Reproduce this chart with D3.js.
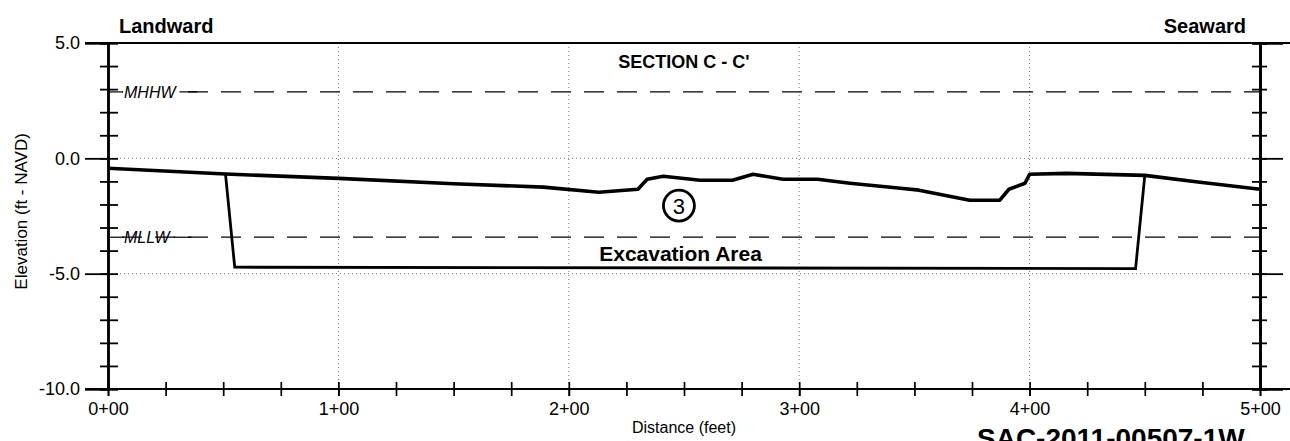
<!DOCTYPE html>
<html><head><meta charset="utf-8">
<script src="https://cdn.jsdelivr.net/npm/d3@7"></script>
<style>
body{margin:0;background:#fff;}
svg{display:block;font-family:'Liberation Sans',Arial,sans-serif;}
</style></head>
<body><svg id="c" width="1290" height="441"></svg>
<script>
// ---- data ----
const groundDist = [0, 51, 100, 150, 189, 213, 230, 234, 241, 257, 271, 280, 293, 308, 322, 344, 352, 374, 387, 391, 398, 400, 416, 450, 474, 500];
const groundElev = [-0.43, -0.68, -0.87, -1.1, -1.25, -1.47, -1.34, -0.91, -0.78, -0.95, -0.95, -0.69, -0.91, -0.91, -1.08, -1.3, -1.38, -1.82, -1.82, -1.34, -1.08, -0.69, -0.65, -0.74, -1.04, -1.34];
const excDist = [51, 55, 446, 450];
const excElev = [-0.68, -4.72, -4.78, -0.74];
const tideNames = ["MHHW", "MLLW"];
const tideElev = [2.88, -3.42];
const xMajorTicks = [0, 100, 200, 300, 400, 500];
const yMajorTicks = [5, 0, -5, -10];
const xTickLabels = ["0+00", "1+00", "2+00", "3+00", "4+00", "5+00"];
const yTickLabels = ["5.0", "0.0", "-5.0", "-10.0"];
const sectionTitle = "SECTION C - C'";
const areaLabel = "Excavation Area";
const areaNumber = "3";
const drawingId = "SAC-2011-00507-1W";

const svg = d3.select("#c");
const x = d3.scaleLinear().domain([0, 500]).range([108, 1260]);
const y = d3.scaleLinear().domain([-10, 5]).range([389, 43]);

// grid (dotted)
const g = svg.append("g");
g.selectAll(".vg").data([100, 200, 300, 400]).join("line")
  .attr("x1", d => x(d)).attr("x2", d => x(d)).attr("y1", y(5)).attr("y2", y(-10))
  .attr("stroke", "#777").attr("stroke-width", 1).attr("stroke-dasharray", "1,3");
g.selectAll(".hg").data([0, -5]).join("line")
  .attr("x1", x(0)).attr("x2", x(500)).attr("y1", d => y(d)).attr("y2", d => y(d))
  .attr("stroke", "#777").attr("stroke-width", 1).attr("stroke-dasharray", "1,3");

// tide dashed lines
tideElev.forEach((e, i) => {
  svg.append("line").attr("x1", x(0)).attr("x2", x(500)).attr("y1", y(e)).attr("y2", y(e))
    .attr("stroke", "#000").attr("stroke-width", 1.2).attr("stroke-dasharray", "20,13").attr("stroke-dashoffset", -14);
  svg.append("line").attr("x1", x(0)).attr("x2", x(0) + 16).attr("y1", y(e)).attr("y2", y(e))
    .attr("stroke", "#000").attr("stroke-width", 1.2);
  const t = svg.append("text").attr("x", x(0) + 16).attr("y", y(e) + 6)
    .attr("font-size", 16).attr("font-style", "italic").text(tideNames[i]);
  const bb = t.node().getBBox();
  svg.insert("rect", "text").attr("x", bb.x - 1).attr("y", bb.y).attr("width", bb.width + 3).attr("height", bb.height).attr("fill", "#fff");
  svg.append("line").attr("x1", bb.x + bb.width + 2).attr("x2", bb.x + bb.width + 20).attr("y1", y(e)).attr("y2", y(e))
    .attr("stroke", "#000").attr("stroke-width", 1.2);
  svg.node().appendChild(t.node());
});

// frame lines
svg.append("line").attr("x1", 85).attr("x2", 1290).attr("y1", y(5)).attr("y2", y(5)).attr("stroke", "#000").attr("stroke-width", 1.8);
svg.append("line").attr("x1", 85).attr("x2", 1290).attr("y1", y(-10)).attr("y2", y(-10)).attr("stroke", "#000").attr("stroke-width", 1.8);

// left axis
const yMinor = d3.range(-10, 6, 1);
const axL = svg.append("g").attr("transform", `translate(${x(0)},0)`);
axL.call(d3.axisLeft(y).tickValues(yMinor).tickSize(8).tickFormat(""));
axL.append("g").call(d3.axisRight(y).tickValues(yMinor).tickSize(10).tickFormat(""));
axL.append("g").call(d3.axisLeft(y).tickValues(yMajorTicks).tickSize(23).tickPadding(5)
  .tickFormat((d, i) => yTickLabels[i]));
axL.selectAll("path").attr("stroke", "#000").attr("stroke-width", 2.2);
axL.selectAll("line").attr("stroke", "#000").attr("stroke-width", 1.8);
axL.selectAll("text").attr("font-size", 18).attr("fill", "#000").attr("font-family", "'Liberation Sans',Arial,sans-serif");

// right axis
const axR = svg.append("g").attr("transform", `translate(${x(500)},0)`);
axR.call(d3.axisLeft(y).tickValues(yMinor).tickSize(8).tickFormat(""));
axR.append("g").call(d3.axisRight(y).tickValues(yMinor).tickSize(7).tickFormat(""));
axR.append("g").call(d3.axisRight(y).tickValues([0, -5]).tickSize(23).tickFormat(""));
axR.selectAll("path").attr("stroke", "#000").attr("stroke-width", 2.4);
axR.selectAll("line").attr("stroke", "#000").attr("stroke-width", 1.8);

// bottom axis
const xMinor = d3.range(0, 501, 25);
const axB = svg.append("g").attr("transform", `translate(0,${y(-10)})`);
axB.call(d3.axisBottom(x).tickValues(xMinor).tickSize(7).tickFormat(""));
axB.append("g").call(d3.axisTop(x).tickValues(xMinor).tickSize(7).tickFormat(""));
axB.append("g").call(d3.axisBottom(x).tickValues(xMajorTicks).tickSize(7).tickPadding(6)
  .tickFormat((d, i) => xTickLabels[i]));
axB.selectAll("path").remove();
axB.selectAll("line").attr("stroke", "#000").attr("stroke-width", 1.7);
axB.selectAll("text").attr("font-size", 18).attr("fill", "#000").attr("font-family", "'Liberation Sans',Arial,sans-serif");

// excavation outline
const line = d3.line().x(d => x(d[0])).y(d => y(d[1]));
svg.append("path").datum(excDist.map((d, i) => [d, excElev[i]])).attr("d", line)
  .attr("fill", "none").attr("stroke", "#000").attr("stroke-width", 2.8);
// ground
svg.append("path").datum(groundDist.map((d, i) => [d, groundElev[i]])).attr("d", line)
  .attr("fill", "none").attr("stroke", "#000").attr("stroke-width", 3.6).attr("stroke-linejoin", "round");

// annotations
svg.append("text").attr("x", 119).attr("y", 33).attr("font-size", 20).attr("font-weight", "bold").text("Landward");
svg.append("text").attr("x", 1246).attr("y", 33).attr("text-anchor", "end").attr("font-size", 20).attr("font-weight", "bold").text("Seaward");
svg.append("text").attr("x", x(250)).attr("y", 68).attr("text-anchor", "middle").attr("font-size", 18).attr("font-weight", "bold").text(sectionTitle);
svg.append("circle").attr("cx", x(247.8)).attr("cy", y(-2.05)).attr("r", 15.5).attr("fill", "#fff").attr("stroke", "#000").attr("stroke-width", 2.8);
svg.append("text").attr("x", x(247.8)).attr("y", y(-2.05) + 8).attr("text-anchor", "middle").attr("font-size", 22).text(areaNumber);
svg.append("text").attr("x", x(248.5)).attr("y", 261).attr("text-anchor", "middle").attr("font-size", 21).attr("font-weight", "bold").text(areaLabel);
svg.append("text").attr("transform", `translate(27,${y(-2.3)}) rotate(-90)`).attr("text-anchor", "middle").attr("font-size", 17).text("Elevation (ft - NAVD)");
svg.append("text").attr("x", x(250)).attr("y", 433).attr("text-anchor", "middle").attr("font-size", 16).text("Distance (feet)");
svg.append("text").attr("x", 977).attr("y", 448).attr("font-size", 28).attr("font-weight", "bold").text(drawingId);
</script></body></html>
